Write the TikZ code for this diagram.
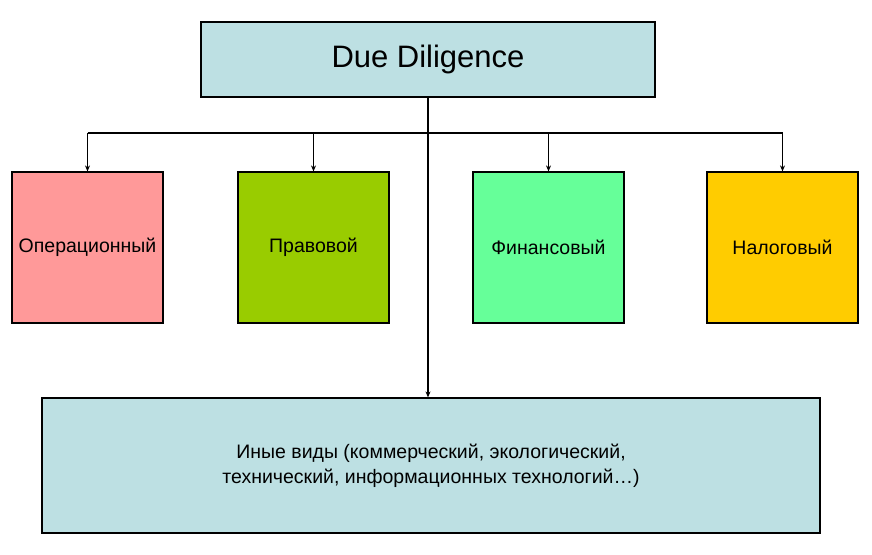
\documentclass[tikz,border=0pt]{standalone}
\usepackage{fontspec}
\setmainfont{Liberation Sans}
\usetikzlibrary{arrows.meta}
\definecolor{cyanbox}{HTML}{BDE0E3}
\definecolor{redbox}{HTML}{FF9999}
\definecolor{greenbox}{HTML}{99CC00}
\definecolor{mintbox}{HTML}{66FF99}
\definecolor{yellowbox}{HTML}{FFCC00}
\tikzset{
  box/.style={draw=black, line width=1.2pt, inner sep=0pt, align=center, font=\fontsize{19.5}{25}\selectfont},
  conn/.style={line width=1.2pt},
  arr/.style={line width=1.2pt, -{Stealth[length=6pt,width=5pt]}}
}
\begin{document}
\begin{tikzpicture}[x=1pt,y=-1pt]
\useasboundingbox (0,0) rectangle (872,554);
\node[box, fill=cyanbox, minimum width=454pt, minimum height=75pt, font=\fontsize{31}{36}\selectfont] (top) at (428,59.5) {Due Diligence};
\node[box, fill=redbox, minimum width=151pt, minimum height=151pt] (op) at (87.5,247.5) {Операционный};
\node[box, fill=greenbox, minimum width=151pt, minimum height=151pt] (pr) at (313.5,247.5) {Правовой};
\node[box, fill=mintbox, minimum width=151pt, minimum height=151pt] (fi) at (548.5,247.5) {Финансовый};
\node[box, fill=yellowbox, minimum width=151pt, minimum height=151pt] (na) at (782.5,247.5) {Налоговый};
\node[box, fill=cyanbox, minimum width=778pt, minimum height=135pt] (ot) at (431,465.5) {Иные виды (коммерческий, экологический,\\технический, информационных технологий…)};
\coordinate (j) at (428,133);
\draw[conn] (top.south -| j) -- (j);
\draw[conn] (op.north |- j) -- (na.north |- j);
\draw[arr] (op.north |- j) -- (op.north);
\draw[arr] (pr.north |- j) -- (pr.north);
\draw[arr] (fi.north |- j) -- (fi.north);
\draw[arr] (na.north |- j) -- (na.north);
\draw[arr] (j) -- (j |- ot.north);
\end{tikzpicture}
\end{document}
